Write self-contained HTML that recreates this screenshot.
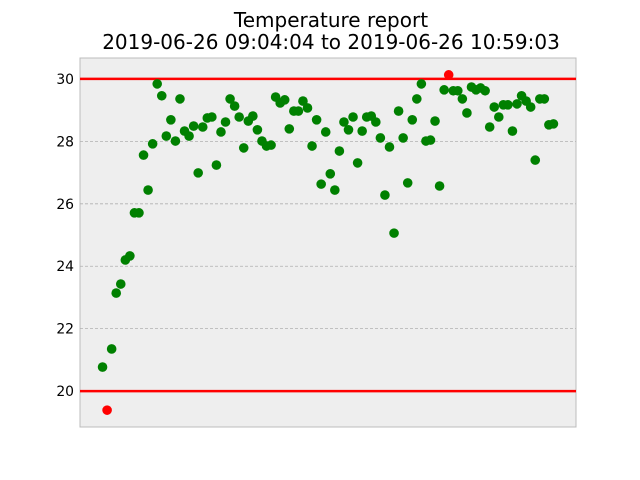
<!DOCTYPE html>
<html><head><meta charset="utf-8"><style>
body{margin:0;background:#fff;}
svg{display:block;font-family:"DejaVu Sans","Liberation Sans",sans-serif;}
</style></head><body>
<svg id="chart" width="640" height="480"></svg>
<script>
const temps=[20.77,19.39,21.35,23.14,23.43,24.20,24.33,25.71,25.71,27.56,26.44,27.92,29.84,29.46,28.17,28.69,28.01,29.36,28.33,28.17,28.49,26.99,28.46,28.75,28.78,27.24,28.30,28.62,29.36,29.13,28.78,27.79,28.65,28.81,28.37,28.01,27.85,27.88,29.42,29.23,29.33,28.40,28.97,28.97,29.29,29.07,27.85,28.69,26.63,28.30,26.96,26.44,27.69,28.62,28.37,28.78,27.31,28.33,28.78,28.81,28.62,28.11,26.28,27.82,25.06,28.97,28.11,26.67,28.69,29.36,29.84,28.01,28.04,28.65,26.57,29.65,30.13,29.62,29.62,29.36,28.91,29.74,29.65,29.71,29.62,28.46,29.10,28.78,29.17,29.17,28.33,29.20,29.46,29.29,29.10,27.40,29.36,29.36,28.53,28.56];
const yTicks=[20,22,24,26,28,30];
const limits=[20,30];
const titleLines=["Temperature report","2019-06-26 09:04:04 to 2019-06-26 10:59:03"];

const NS="http://www.w3.org/2000/svg";
const svg=document.getElementById('chart');
const L=80,R=576,T=58,B=427;
const yMin=18.85,yMax=30.67;
const n=temps.length;
const xPad=(n-1)*0.05;
function sx(i){return L+(i+xPad)/((n-1)+2*xPad)*(R-L);}
function sy(v){return B-(v-yMin)/(yMax-yMin)*(B-T);}
function mk(tag,attrs){const e=document.createElementNS(NS,tag);for(const k in attrs)e.setAttribute(k,attrs[k]);svg.appendChild(e);return e;}

const bg=mk('rect',{x:L,y:T,width:R-L,height:B-T,fill:'#eeeeee',stroke:'#bcbcbc','stroke-width':1});



yTicks.forEach(t=>{
  const y=sy(t);
  const g=mk('line',{x1:L,x2:R,y1:y,y2:y,stroke:'#b0b0b0','stroke-width':0.8,'stroke-dasharray':'3,2'});
  
  
  const tx=mk('text',{x:L-6,y:y+5,'text-anchor':'end','font-size':13.9,fill:'#000'});
  tx.textContent=t;
  
  
});

limits.forEach(v=>{
  const y=sy(v);
  const l=mk('line',{x1:L,x2:R,y1:y,y2:y,stroke:'#ff0000','stroke-width':2.5});
  
  
});

temps.forEach((v,i)=>{
  const out=v<limits[0]||v>limits[1];
  const c=mk('circle',{cx:sx(i),cy:sy(v),r:4.8,fill:out?'#ff0000':'#008000'});
  
  
});

titleLines.forEach((s,k)=>{
  const t=mk('text',{x:(L+R)/2+3,y:27+k*22,'text-anchor':'middle','font-size':20,fill:'#000'});
  t.textContent=s;
  
  
});
</script>
</body></html>
